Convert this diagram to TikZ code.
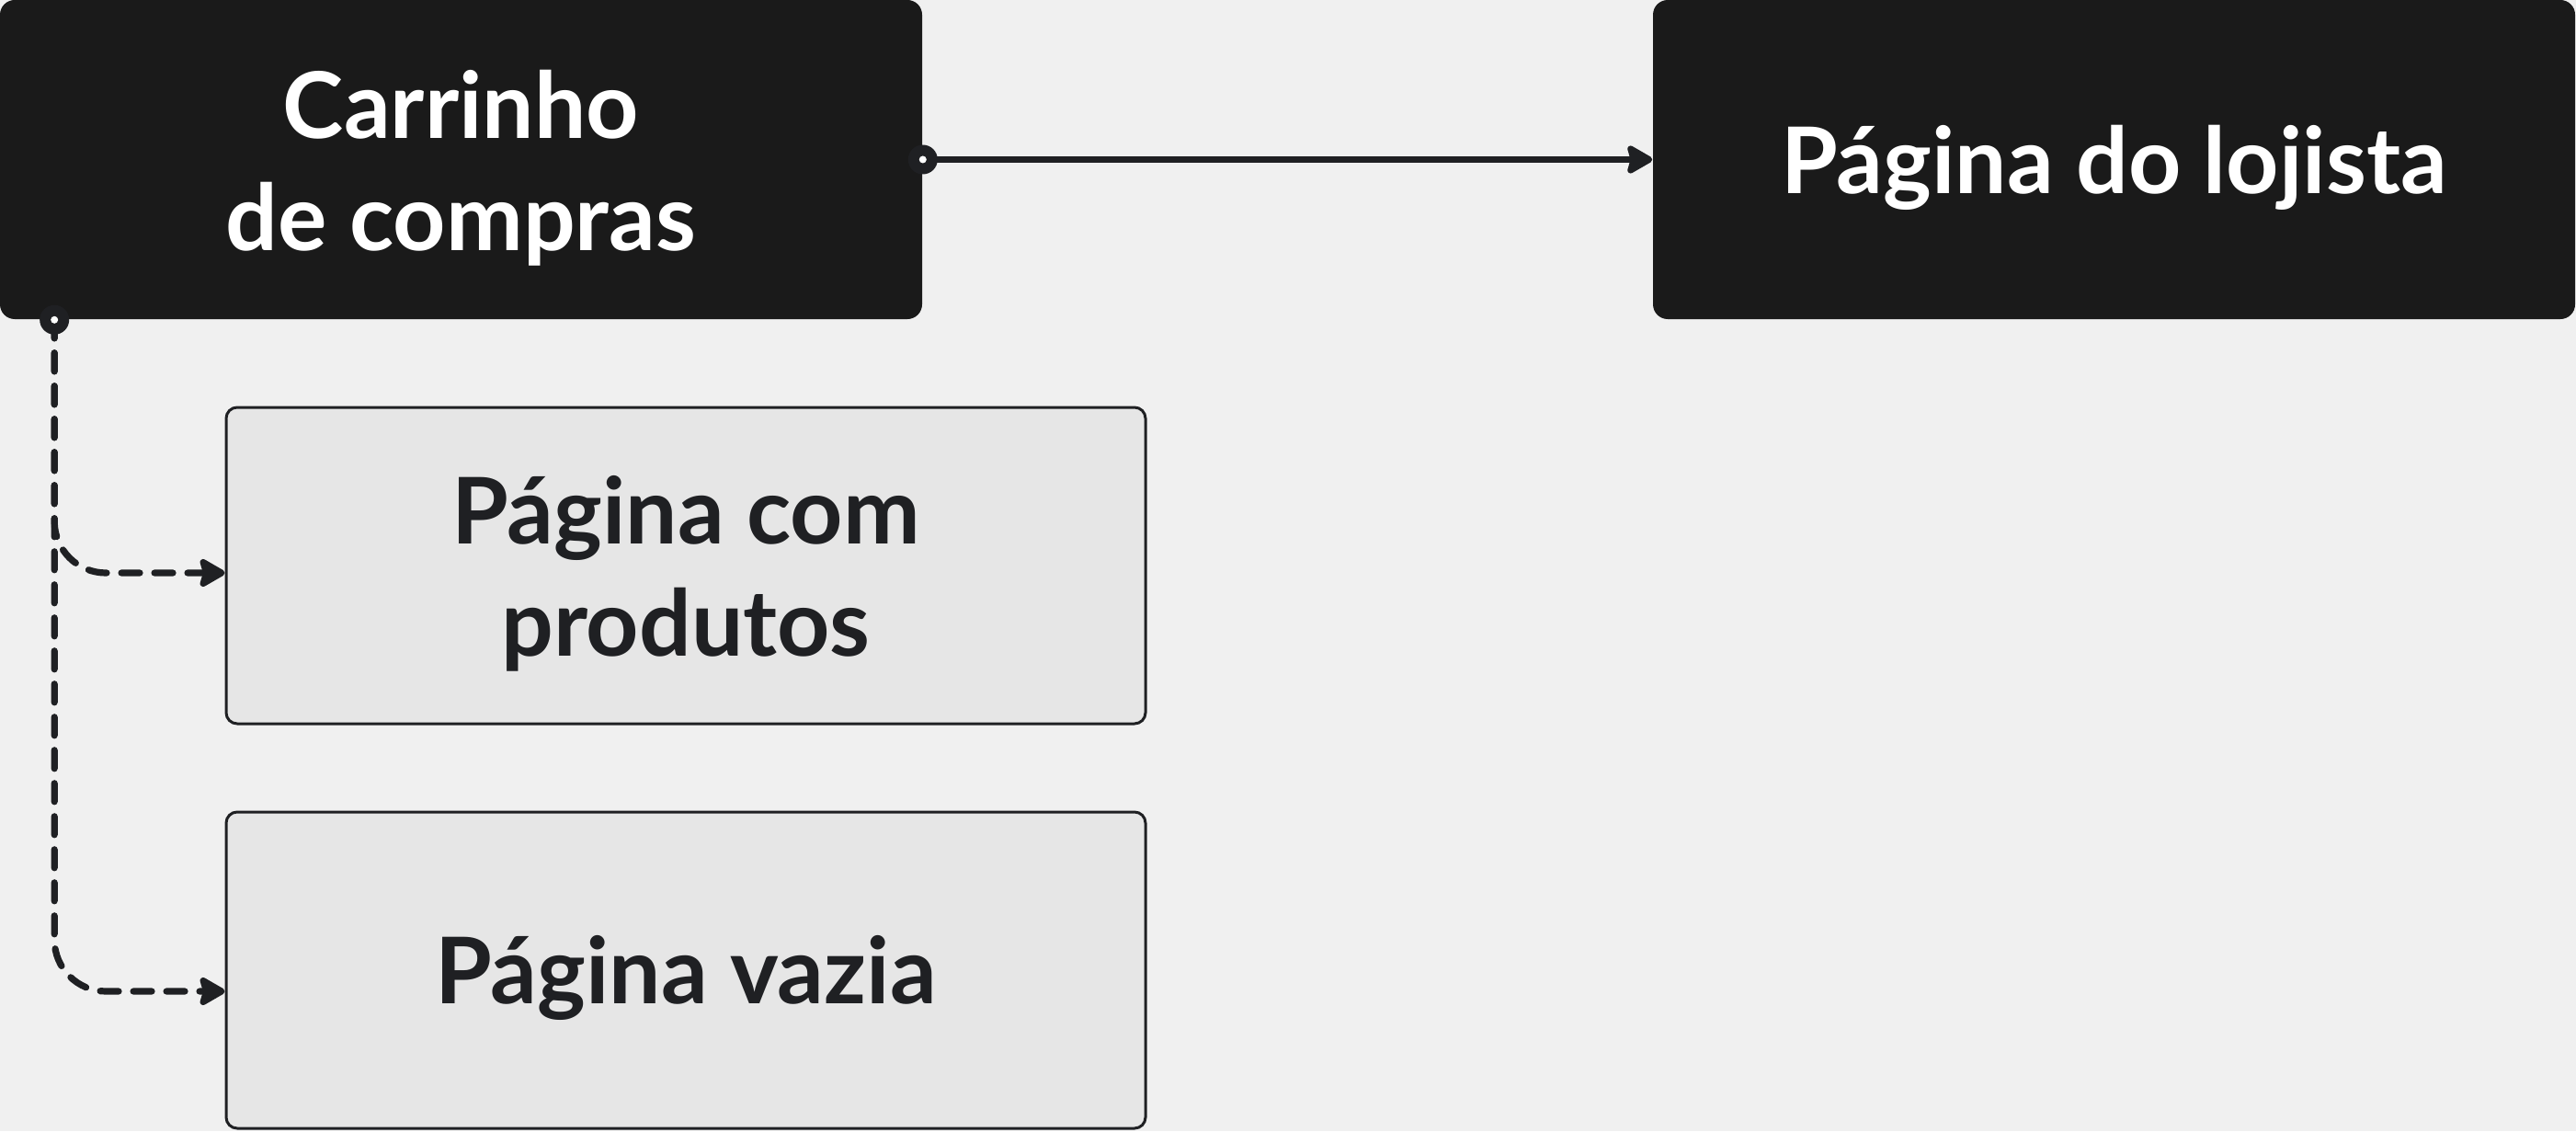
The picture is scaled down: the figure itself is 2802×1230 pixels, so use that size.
\documentclass[tikz,border=0pt]{standalone}
\usepackage{fontspec}
\setmainfont{Lato}
\usetikzlibrary{arrows.meta}
\definecolor{ink}{HTML}{1F2023}
\definecolor{boxdark}{HTML}{1A1A1A}
\definecolor{boxlight}{HTML}{E6E6E6}
\definecolor{canvas}{HTML}{F0F0F0}
\newcommand{\boxline}[1]{\raisebox{-2.2pt}[\height][\depth]{#1}}
\begin{document}
\begin{tikzpicture}[x=0.25pt,y=-0.25pt,
    darkbox/.style={fill=boxdark, rounded corners=4pt, minimum width=250.75pt, minimum height=86.75pt,
        inner sep=0pt, text=white, align=center, font=\fontsize{25}{30.5}\selectfont\bfseries},
    lightbox/.style={draw=ink, line width=0.75pt, fill=boxlight, rounded corners=3pt, minimum width=250pt,
        minimum height=86pt, inner sep=0pt, text=ink, align=center, font=\fontsize{25}{30.5}\selectfont\bfseries},
    tip/.tip={Stealth[length=8pt,width=9pt,inset=1.2pt,round]},
    link/.style={ink, line width=1.8pt, -tip},
    flow/.style={link, dash pattern=on 5pt off 4pt, line cap=round, rounded corners=14pt}]
                        \useasboundingbox (0,0) rectangle (2802,1230);
                        \fill [canvas] (0,0) rectangle (2802,1230);

                        \node [darkbox] (cart) at (501.5,173.5) {\boxline{Carrinho}\\\boxline{de compras}};
                        \node [darkbox] (shop) at (2299.5,173.5) {\boxline{Página do lojista}};
                        \node [lightbox] (full) at (746,615) {\boxline{Página com}\\\boxline{produtos}};
                        \node [lightbox] (empty) at (746,1055) {\boxline{Página vazia}};

                        \coordinate (cartout) at ([xshift=15pt]cart.south west);

                        % Links out of the cart.
                        \draw [link] (cart.east) -- (shop.west);
                        \draw [flow] (cartout) |- ([yshift=-2pt]full.west);
                        \draw [flow] (cartout) |- ([yshift=-5.75pt]empty.west);

                        % Start markers.
                        \fill [ink] (cart.east) circle (4pt);
                        \fill [white] (cart.east) circle (1pt);
                        \fill [ink] (cartout) circle (4pt);
                        \fill [white] (cartout) circle (1pt);

                    \end{tikzpicture}
\end{document}
